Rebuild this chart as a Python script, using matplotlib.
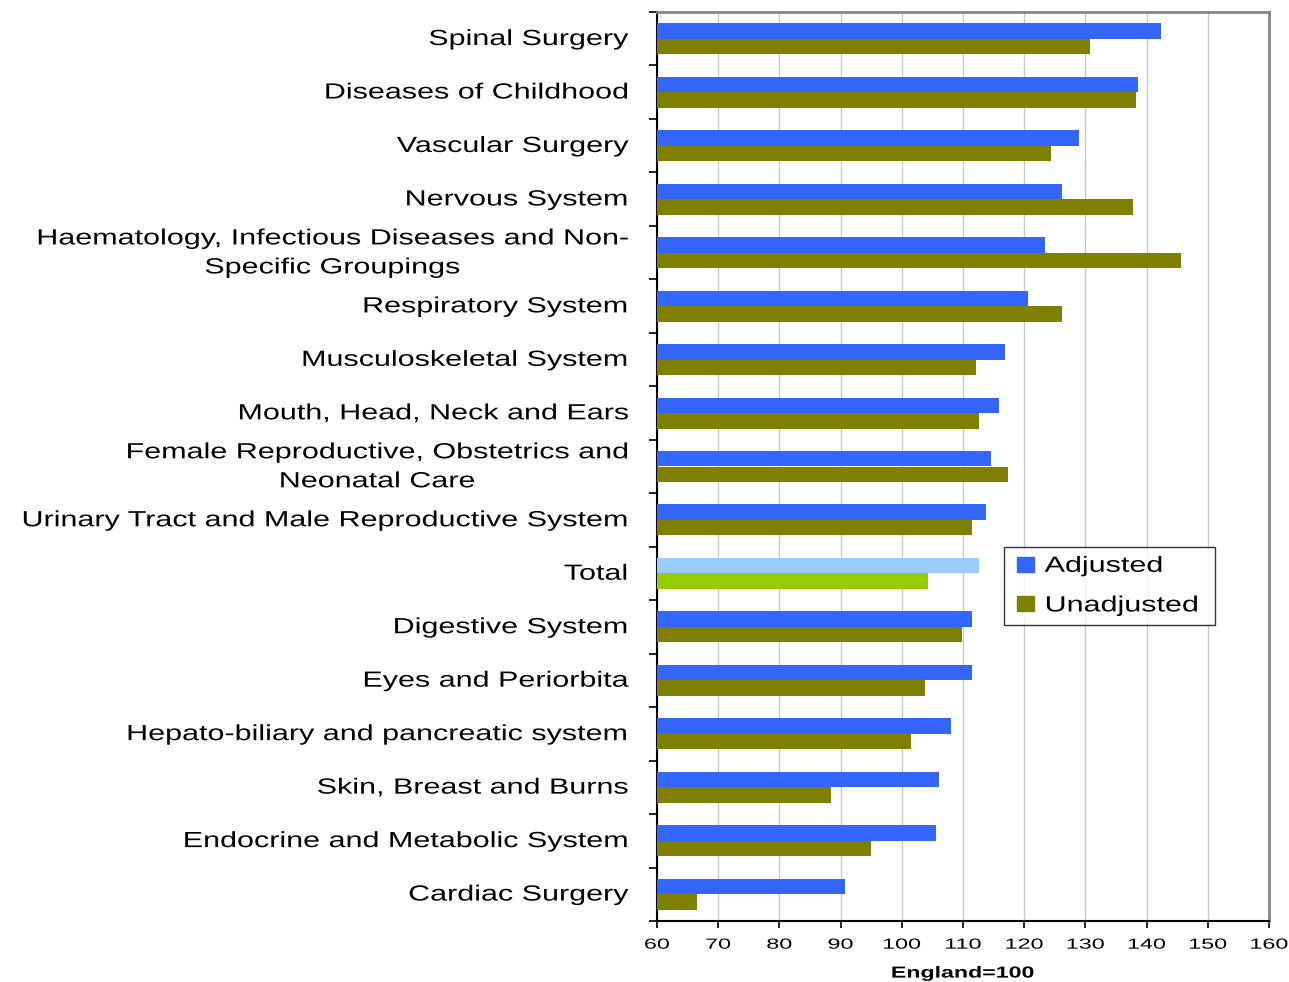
import matplotlib
matplotlib.use("Agg")
import matplotlib.pyplot as plt
import numpy as np
from matplotlib.patches import Patch, Rectangle
from matplotlib.patheffects import AbstractPathEffect
from matplotlib.transforms import Affine2D
from matplotlib.legend_handler import HandlerPatch

plt.rcParams['font.family'] = ['Liberation Sans', 'DejaVu Sans']

categories = [
    "Spinal Surgery",
    "Diseases of Childhood",
    "Vascular Surgery",
    "Nervous System",
    "Haematology, Infectious Diseases and Non-\nSpecific Groupings",
    "Respiratory System",
    "Musculoskeletal System",
    "Mouth, Head, Neck and Ears",
    "Female Reproductive, Obstetrics and\nNeonatal Care",
    "Urinary Tract and Male Reproductive System",
    "Total",
    "Digestive System",
    "Eyes and Periorbita",
    "Hepato-biliary and pancreatic system",
    "Skin, Breast and Burns",
    "Endocrine and Metabolic System",
    "Cardiac Surgery",
]
adjusted = [142.3, 138.6, 129.0, 126.2, 123.4, 120.6, 116.9, 115.9, 114.5,
            113.7, 112.6, 111.4, 111.4, 108.0, 106.1, 105.6, 90.7]
unadjusted = [130.8, 138.3, 124.3, 137.8, 145.7, 126.2, 112.2, 112.6, 117.4,
              111.4, 104.3, 109.9, 103.8, 101.5, 88.4, 95.0, 66.6]
xticks = [60, 70, 80, 90, 100, 110, 120, 130, 140, 150, 160]
xlabel = "England=100"
series_names = ["Adjusted", "Unadjusted"]

BLUE = "#3366FF"
OLIVE = "#808000"
LIGHTBLUE = "#99CCFF"
LIME = "#99CC00"


class HStretch(AbstractPathEffect):
    """Render text glyphs stretched horizontally about the text's anchor point."""
    def __init__(self, text, sx):
        super().__init__()
        self.text = text
        self.sx = sx

    def draw_path(self, renderer, gc, tpath, affine, rgbFace=None):
        t = self.text
        x0 = t.get_transform().transform(t.get_unitless_position())[0]
        st = Affine2D().translate(-x0, 0).scale(self.sx, 1).translate(x0, 0)
        renderer.draw_path(gc, tpath, affine + st, rgbFace)


def stretch(t, sx):
    t.set_path_effects([HStretch(t, sx)])


fig = plt.figure(figsize=(12.89, 9.82), dpi=100)
ax = fig.add_axes([657/1289, 1-921/982, (1269-657)/1289, (921-12)/982])

n = len(categories)
y = np.arange(n)
h = 0.29
adj_colors = [LIGHTBLUE if c == "Total" else BLUE for c in categories]
un_colors = [LIME if c == "Total" else OLIVE for c in categories]
base = 60
ax.barh(y - h/2, np.array(adjusted) - base, left=base, height=h, color=adj_colors, zorder=3)
ax.barh(y + h/2, np.array(unadjusted) - base, left=base, height=h, color=un_colors, zorder=3)

ax.set_xlim(60, 160)
ax.set_ylim(n - 0.5, -0.5)
ax.set_xticks(xticks)
ax.set_xticklabels([str(v) for v in xticks], fontsize=10.5)
for lbl in ax.get_xticklabels():
    stretch(lbl, 1.6)
ax.xaxis.grid(True, color="#C8C8C8", linewidth=1, zorder=0)
ax.set_axisbelow(True)

ax.set_yticks(np.arange(n + 1) - 0.5)
ax.set_yticklabels([])
ax.tick_params(axis='y', direction='out', length=6, width=1.2, color='black')
ax.tick_params(axis='x', direction='out', length=5, width=1.2, color='black', pad=7)

for i, c in enumerate(categories):
    t = ax.text(-0.047, i + 0.015, c, transform=ax.get_yaxis_transform(), ha='right',
                va='center', multialignment='center', fontsize=15.8, linespacing=1.5)
    stretch(t, 1.39)

ax.set_xlabel(xlabel, fontsize=11.5, fontweight='bold', labelpad=10)
stretch(ax.xaxis.label, 1.45)

for s in ['top', 'right']:
    ax.spines[s].set_color('#888888')
    ax.spines[s].set_linewidth(2)
for s in ['left', 'bottom']:
    ax.spines[s].set_color('black')
    ax.spines[s].set_linewidth(1.5)


def square_patch(legend, orig_handle, xdescent, ydescent, width, height, fontsize):
    sq = 17.0 * 72 / 100  # square side in points
    return Rectangle((-xdescent + width - sq, -ydescent + (height - 15 * 72 / 100) / 2),
                     sq, 15 * 72 / 100)


handles = [Patch(color=BLUE, label=series_names[0]), Patch(color=OLIVE, label=series_names[1])]
x0 = (1004-657)/612
w = (1215-1004)/612
ytop = 1-(547-12)/909
leg = ax.legend(handles=handles, loc='upper left', bbox_to_anchor=(x0, ytop-0.1, w, 0.1),
                mode='expand', fontsize=15.8, frameon=True, fancybox=False, edgecolor='black',
                handlelength=0.95, handleheight=0.7, handletextpad=0.5, borderpad=0.4,
                labelspacing=0.85, borderaxespad=0,
                handler_map={Patch: HandlerPatch(patch_func=square_patch)})
leg.get_frame().set_linewidth(1)
for t in leg.get_texts():
    stretch(t, 1.39)

fig.savefig("out.png", dpi=100)
